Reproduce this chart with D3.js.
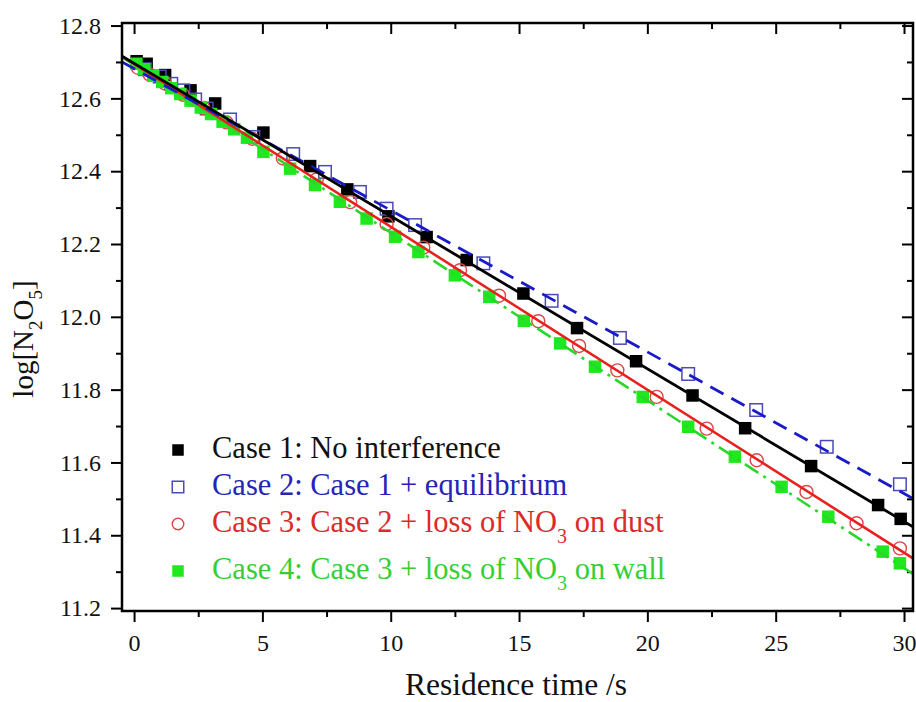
<!DOCTYPE html>
<html>
<head>
<meta charset="utf-8">
<script src="https://cdn.jsdelivr.net/npm/d3@7"></script>
<style>
  body { margin: 0; background: #fff; }
  svg { display: block; }
  text { font-family: "Liberation Serif", "Times New Roman", Times, serif; }
</style>
</head>
<body>
<svg id="chart" width="916" height="702"></svg>
<script>
// ---- Data: log[N2O5] versus residence time (s) ----
const case1Time = [0.1, 0.49, 1.21, 2.2, 3.16, 5.04, 6.86, 8.31, 9.91, 11.4, 12.96, 15.17, 17.26, 19.56, 21.76, 23.81, 26.38, 28.99, 29.87];
const case1Log  = [12.702, 12.695, 12.664, 12.622, 12.586, 12.506, 12.414, 12.35, 12.276, 12.219, 12.156, 12.064, 11.969, 11.878, 11.784, 11.694, 11.59, 11.483, 11.445];

const case2Time = [0.42, 1.0, 1.45, 1.92, 2.38, 2.83, 3.74, 4.65, 6.2, 7.44, 8.8, 9.84, 10.95, 13.61, 16.27, 18.93, 21.59, 24.24, 26.99, 29.84];
const case2Log  = [12.68, 12.66, 12.64, 12.622, 12.597, 12.572, 12.542, 12.494, 12.447, 12.398, 12.343, 12.297, 12.252, 12.147, 12.044, 11.942, 11.843, 11.744, 11.643, 11.54];

const case3Time = [0.15, 0.6, 1.2, 1.9, 2.7, 3.6, 4.6, 5.8, 7.12, 8.42, 9.84, 11.27, 12.7, 14.22, 15.75, 17.34, 18.83, 20.36, 22.31, 24.26, 26.2, 28.15, 29.84];
const case3Log  = [12.684, 12.666, 12.641, 12.61, 12.574, 12.534, 12.489, 12.435, 12.378, 12.315, 12.255, 12.19, 12.128, 12.058, 11.988, 11.92, 11.853, 11.78, 11.693, 11.606, 11.519, 11.433, 11.364];

const case4Time = [0.09, 0.4, 0.75, 1.1, 1.45, 1.8, 2.2, 2.6, 3.0, 3.45, 3.9, 4.4, 5.04, 6.08, 7.05, 8.02, 9.06, 10.17, 11.08, 12.5, 13.84, 15.19, 16.6, 17.96, 19.82, 21.59, 23.41, 25.23, 27.05, 29.17, 29.84];
const case4Log  = [12.695, 12.68, 12.662, 12.645, 12.628, 12.612, 12.594, 12.575, 12.557, 12.536, 12.515, 12.492, 12.453, 12.407, 12.362, 12.316, 12.27, 12.22, 12.178, 12.114, 12.055, 11.989, 11.927, 11.863, 11.78, 11.698, 11.616, 11.533, 11.451, 11.355, 11.323];

// Fitted decay lines (end points across the axis range)
const case1FitTime = [-0.47, 30.35];
const case1FitLog  = [12.716, 11.423];
const case2FitTime = [-0.47, 30.35];
const case2FitLog  = [12.70, 11.501];
const case3FitTime = [-0.47, 30.35];
const case3FitLog  = [12.716, 11.3365];
const case4FitTime = [-0.47, 30.35];
const case4FitLog  = [12.713, 11.294];

// Axis ticks
const xMajorTicks = [0, 5, 10, 15, 20, 25, 30];
const xMinorTicks = [2.5, 7.5, 12.5, 17.5, 22.5, 27.5];
const yMajorTicks = [11.2, 11.4, 11.6, 11.8, 12.0, 12.2, 12.4, 12.6, 12.8];
const yMinorTicks = [11.3, 11.5, 11.7, 11.9, 12.1, 12.3, 12.5, 12.7];

// Legend entries: [text, subscript, trailing text]
const legendLabels = [
  ["Case 1: No interference", "", ""],
  ["Case 2: Case 1 + equilibrium", "", ""],
  ["Case 3: Case 2 + loss of NO", "3", " on dust"],
  ["Case 4: Case 3 + loss of NO", "3", " on wall"]
];

// ---- Layout ----
const W = 916, H = 702;
const margin = { left: 122, right: 3, top: 23, bottom: 91 };
const plotW = W - margin.left - margin.right;
const plotH = H - margin.top - margin.bottom;

const x = d3.scaleLinear().domain([-0.47, 30.35]).range([0, plotW]);
const y = d3.scaleLinear().domain([11.192, 12.807]).range([plotH, 0]);

const svg = d3.select("#chart");
svg.append("rect").attr("width", W).attr("height", H).attr("fill", "#fff");

const g = svg.append("g").attr("transform", `translate(${margin.left},${margin.top})`);

g.append("clipPath").attr("id", "plotClip")
  .append("rect").attr("width", plotW).attr("height", plotH);

// ---- Axes ----
function styleAxis(sel) {
  sel.select(".domain").remove();
  sel.selectAll(".tick line").attr("stroke", "#000").attr("stroke-width", 2);
  sel.selectAll(".tick text").attr("fill", "#111").attr("font-size", 24)
    .style("font-family", "'Liberation Serif', 'Times New Roman', serif");
}

g.append("g").attr("transform", `translate(0,${plotH})`)
  .call(d3.axisBottom(x).tickValues(xMajorTicks).tickSize(11).tickPadding(12).tickFormat(d3.format("d")))
  .call(styleAxis);
g.append("g").attr("transform", `translate(0,${plotH})`)
  .call(d3.axisBottom(x).tickValues(xMinorTicks).tickSize(6).tickFormat(""))
  .call(styleAxis);
g.append("g")
  .call(d3.axisTop(x).tickValues(xMajorTicks).tickSize(-11).tickFormat(""))
  .call(styleAxis);
g.append("g")
  .call(d3.axisTop(x).tickValues(xMinorTicks).tickSize(-6).tickFormat(""))
  .call(styleAxis);

g.append("g")
  .call(d3.axisLeft(y).tickValues(yMajorTicks).tickSize(11).tickPadding(10).tickFormat(d3.format(".1f")))
  .call(styleAxis);
g.append("g")
  .call(d3.axisLeft(y).tickValues(yMinorTicks).tickSize(6).tickFormat(""))
  .call(styleAxis);
g.append("g").attr("transform", `translate(${plotW},0)`)
  .call(d3.axisRight(y).tickValues(yMajorTicks).tickSize(-11).tickFormat(""))
  .call(styleAxis);
g.append("g").attr("transform", `translate(${plotW},0)`)
  .call(d3.axisRight(y).tickValues(yMinorTicks).tickSize(-6).tickFormat(""))
  .call(styleAxis);

// ---- Series ----
const zip = (ts, vs) => ts.map((t, i) => [t, vs[i]]);
const series = [
  { pts: zip(case1Time, case1Log), fit: zip(case1FitTime, case1FitLog), shape: "square", fill: "#000", stroke: "none",
    line: "#000", width: 2.8, dash: null, text: "#111" },
  { pts: zip(case2Time, case2Log), fit: zip(case2FitTime, case2FitLog), shape: "square", fill: "none", stroke: "#4a4ab8",
    line: "#1a1ac8", width: 2.8, dash: "15,9", text: "#2525b5" },
  { pts: zip(case3Time, case3Log), fit: zip(case3FitTime, case3FitLog), shape: "circle", fill: "none", stroke: "#d84848",
    line: "#e8211f", width: 2.6, dash: null, text: "#dc2a2a" },
  { pts: zip(case4Time, case4Log), fit: zip(case4FitTime, case4FitLog), shape: "square", fill: "#1fe81f", stroke: "none",
    line: "#2bd62b", width: 2.6, dash: "16,6,3,6", text: "#35cf35" }
];

const plot = g.append("g").attr("clip-path", "url(#plotClip)");

function drawMarker(sel, s, size) {
  if (s.shape === "circle") {
    sel.append("circle").attr("r", size / 2)
      .attr("fill", s.fill).attr("stroke", s.stroke).attr("stroke-width", 1.4);
  } else {
    sel.append("rect").attr("x", -size / 2).attr("y", -size / 2)
      .attr("width", size).attr("height", size)
      .attr("fill", s.fill).attr("stroke", s.stroke).attr("stroke-width", s.fill === "none" ? 1.5 : 0);
  }
}

series.forEach(s => {
  plot.append("g").selectAll("g").data(s.pts).join("g")
    .attr("transform", d => `translate(${x(d[0])},${y(d[1])})`)
    .each(function () { drawMarker(d3.select(this), s, s.shape === "circle" ? 13 : 12.5); });
});

const lineGen = d3.line().x(d => x(d[0])).y(d => y(d[1]));
[3, 2, 1, 0].forEach(i => {
  const s = series[i];
  plot.append("path").datum(s.fit).attr("d", lineGen)
    .attr("fill", "none").attr("stroke", s.line).attr("stroke-width", s.width)
    .attr("stroke-dasharray", s.dash);
});

// Plot frame
g.append("rect").attr("width", plotW).attr("height", plotH)
  .attr("fill", "none").attr("stroke", "#000").attr("stroke-width", 2.5);

// ---- Legend ----
const legendY = [450, 487, 524, 571];
const legend = svg.append("g");
legendLabels.forEach((lab, i) => {
  const s = series[i];
  const row = legend.append("g").attr("transform", `translate(178,${legendY[i]})`);
  drawMarker(row, s, 11.5);
  const t = row.append("text").attr("x", 34).attr("y", 8)
    .attr("font-size", 30.5).attr("fill", s.text);
  t.append("tspan").text(lab[0]);
  if (lab[1]) {
    t.append("tspan").attr("font-size", 20).attr("dy", 11).text(lab[1]);
    t.append("tspan").attr("dy", -11).text(lab[2]);
  }
});

// ---- Axis titles ----
svg.append("text").attr("x", 516).attr("y", 695).attr("text-anchor", "middle")
  .attr("font-size", 31.5).attr("fill", "#111").text("Residence time /s");

const yTitle = svg.append("text")
  .attr("transform", "translate(33,339) rotate(-90)")
  .attr("text-anchor", "middle").attr("font-size", 29).attr("fill", "#111");
yTitle.append("tspan").text("log[N");
yTitle.append("tspan").attr("font-size", 19).attr("dy", 9).text("2");
yTitle.append("tspan").attr("dy", -9).text("O");
yTitle.append("tspan").attr("font-size", 19).attr("dy", 9).text("5");
yTitle.append("tspan").attr("dy", -9).text("]");
</script>
</body>
</html>
